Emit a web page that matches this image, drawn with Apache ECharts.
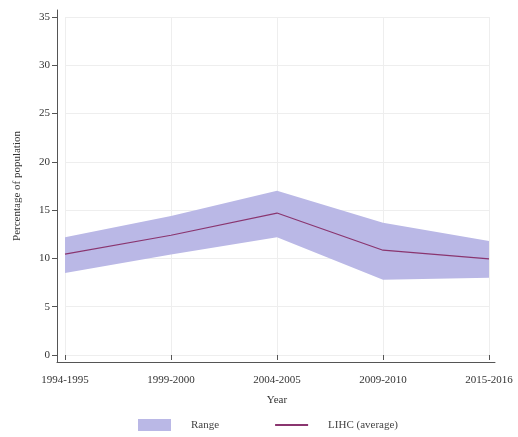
<!DOCTYPE html>
<html><head><meta charset="utf-8">
<script src="https://cdn.jsdelivr.net/npm/echarts@6/dist/echarts.min.js"></script>
<style>html,body{margin:0;padding:0;background:#fff}#c{width:518px;height:437px}</style>
</head><body><div id="c"></div>
<script>
var categories = ['1994-1995','1999-2000','2004-2005','2009-2010','2015-2016'];
var rangeLow = [8.5, 10.4, 12.2, 7.8, 8.0];
var rangeHigh = [12.2, 14.4, 17.0, 13.7, 11.8];
var average = [10.45, 12.4, 14.7, 10.85, 9.95];
var yTicks = {min: 0, max: 35, interval: 5};

var rangeSpan = rangeHigh.map(function(v, i){ return +(v - rangeLow[i]).toFixed(2); });
var font = '"Liberation Serif","Times New Roman",serif';
var bandColor = '#bab8e6';
var lineColor = '#8a356f';
var axisColor = '#555';

var chart = echarts.init(document.getElementById('c'));
chart.setOption({
  animation: false,
  backgroundColor: '#fff',
  textStyle: {fontFamily: font},
  grid: [
    {left: 65, right: 29, top: 17, bottom: 82},
    {left: 57, right: 23, top: 10, bottom: 75}
  ],
  legend: {
    bottom: 1, left: 133, itemGap: 55, itemWidth: 33, itemHeight: 12,
    textStyle: {fontFamily: font, fontSize: 11, color: '#444', padding: [0,0,0,15]},
    data: [
      {name: 'Range', icon: 'rect'},
      {name: 'LIHC (average)', itemStyle: {opacity: 0}}
    ]
  },
  xAxis: [
    {
      type: 'category', gridIndex: 0, data: categories, boundaryGap: false, offset: 7,
      axisLine: {show: false},
      axisTick: {show: true, length: 5, alignWithLabel: true, lineStyle: {color: axisColor}},
      axisLabel: {fontFamily: font, fontSize: 11, color: '#333', margin: 13},
      splitLine: {show: true, lineStyle: {color: '#eeeeee', width: 1}},
      name: 'Year', nameLocation: 'middle', nameGap: 33,
      nameTextStyle: {fontFamily: font, fontSize: 11, color: '#333'}
    },
    {
      type: 'value', gridIndex: 1, min: 0, max: 1,
      axisLine: {show: true, onZero: false, lineStyle: {color: axisColor}},
      axisTick: {show: false}, axisLabel: {show: false}, splitLine: {show: false}
    }
  ],
  yAxis: [
    {
      type: 'value', gridIndex: 0, min: yTicks.min, max: yTicks.max, interval: yTicks.interval, offset: 8,
      axisLine: {show: false},
      axisTick: {show: true, length: 5, lineStyle: {color: axisColor}},
      axisLabel: {fontFamily: font, fontSize: 11, color: '#333', margin: 7},
      splitLine: {show: true, lineStyle: {color: '#eeeeee', width: 1}},
      name: 'Percentage of population', nameLocation: 'middle', nameGap: 34,
      nameTextStyle: {fontFamily: font, fontSize: 11, color: '#333'}
    },
    {
      type: 'value', gridIndex: 1, min: 0, max: 1,
      axisLine: {show: true, onZero: false, lineStyle: {color: axisColor}},
      axisTick: {show: false}, axisLabel: {show: false}, splitLine: {show: false}
    }
  ],
  series: [
    {
      name: 'low', type: 'line', xAxisIndex: 0, yAxisIndex: 0, stack: 'band',
      data: rangeLow, symbol: 'none', lineStyle: {opacity: 0}, silent: true
    },
    {
      name: 'Range', type: 'line', xAxisIndex: 0, yAxisIndex: 0, stack: 'band',
      data: rangeSpan, symbol: 'none', lineStyle: {opacity: 0},
      itemStyle: {color: bandColor},
      areaStyle: {color: bandColor, opacity: 1}
    },
    {
      name: 'LIHC (average)', type: 'line', xAxisIndex: 0, yAxisIndex: 0,
      data: average, symbol: 'none', z: 5,
      itemStyle: {color: lineColor},
      lineStyle: {color: lineColor, width: 1.2}
    }
  ]
});
</script>
</body></html>
